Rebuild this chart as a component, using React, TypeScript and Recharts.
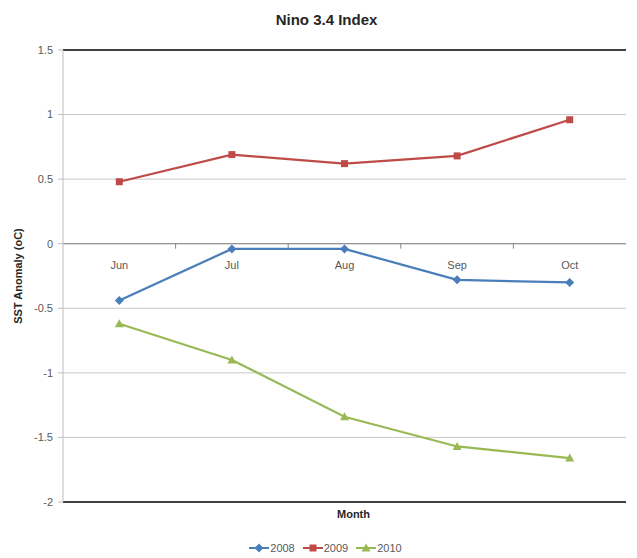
import {
  CartesianGrid,
  Label,
  Legend,
  Line,
  LineChart,
  ReferenceLine,
  XAxis,
  YAxis,
} from "recharts";

const months = ["Jun", "Jul", "Aug", "Sep", "Oct"];
const anomaly2008 = [-0.44, -0.04, -0.04, -0.28, -0.3];
const anomaly2009 = [0.48, 0.69, 0.62, 0.68, 0.96];
const anomaly2010 = [-0.62, -0.9, -1.34, -1.57, -1.66];
const yTicks = [-2, -1.5, -1, -0.5, 0, 0.5, 1, 1.5];

const data = months.map((month, i) => ({
  month,
  y2008: anomaly2008[i],
  y2009: anomaly2009[i],
  y2010: anomaly2010[i],
}));

type Shape = "diamond" | "square" | "triangle";

const series: { key: string; name: string; color: string; shape: Shape }[] = [
  { key: "y2008", name: "2008", color: "#4A7EBB", shape: "diamond" },
  { key: "y2009", name: "2009", color: "#BE4B48", shape: "square" },
  { key: "y2010", name: "2010", color: "#98B954", shape: "triangle" },
];

const FONT = "'Liberation Sans Narrow', 'Liberation Sans', Arial, sans-serif";
const W = 637;
const H = 558;
const MARGIN = { top: 50, right: 11, bottom: 26, left: 0 };
const Y_AXIS_W = 63;
const X_AXIS_H = 30;
const Y_MIN = -2;
const Y_MAX = 1.5;
const PLOT_H = H - MARGIN.top - MARGIN.bottom - X_AXIS_H;
const PLOT_W = W - MARGIN.left - MARGIN.right - Y_AXIS_W;
// the category axis crosses at 0, not at the bottom of the plot
const ZERO_Y = MARGIN.top + (PLOT_H * Y_MAX) / (Y_MAX - Y_MIN);
const BAND = PLOT_W / months.length;

function Marker({ shape, cx, cy, color }: { shape: Shape; cx: number; cy: number; color: string }) {
  if (shape === "diamond") {
    const r = 4.5;
    return (
      <polygon
        points={`${cx},${cy - r} ${cx + r},${cy} ${cx},${cy + r} ${cx - r},${cy}`}
        fill={color}
      />
    );
  }
  if (shape === "square") {
    return <rect x={cx - 3.5} y={cy - 3.5} width={7} height={7} fill={color} />;
  }
  return (
    <polygon
      points={`${cx},${cy - 4.5} ${cx + 4.5},${cy + 3.5} ${cx - 4.5},${cy + 3.5}`}
      fill={color}
    />
  );
}

function MonthTick(props: any) {
  const { x, payload, index } = props;
  return (
    <g>
      <text
        x={x}
        y={ZERO_Y + 25}
        textAnchor="middle"
        fill="#595959"
        fontSize={11}
        fontFamily={FONT}
      >
        {payload.value}
      </text>
      {index < months.length - 1 && (
        <line
          x1={x + BAND / 2}
          x2={x + BAND / 2}
          y1={ZERO_Y}
          y2={ZERO_Y + 5}
          stroke="#868686"
        />
      )}
    </g>
  );
}

function LegendContent() {
  return (
    <div
      style={{
        display: "flex",
        justifyContent: "center",
        gap: 8,
        paddingLeft: 14,
        fontFamily: FONT,
        fontSize: 11,
        color: "#595959",
      }}
    >
      {series.map((s) => (
        <div key={s.key} style={{ display: "flex", alignItems: "center", gap: 1 }}>
          <svg width={20} height={10}>
            <line x1={0} x2={20} y1={5} y2={5} stroke={s.color} strokeWidth={2} />
            <Marker shape={s.shape} cx={10} cy={5} color={s.color} />
          </svg>
          <span>{s.name}</span>
        </div>
      ))}
    </div>
  );
}

export default function App() {
  return (
    <div style={{ position: "absolute", left: 0, top: 0, width: W, height: H, background: "#fff" }}>
      <div
        style={{
          position: "absolute",
          top: 11,
          left: 0,
          width: W,
          paddingLeft: 16,
          boxSizing: "border-box",
          textAlign: "center",
          fontFamily: FONT,
          fontWeight: "bold",
          fontSize: 15,
          color: "#262626",
        }}
      >
        Nino 3.4 Index
      </div>
      <LineChart width={W} height={H} data={data} margin={MARGIN}>
        <CartesianGrid vertical={false} stroke="#C8C8C8" />
        <YAxis
          width={Y_AXIS_W}
          domain={[Y_MIN, Y_MAX]}
          ticks={yTicks}
          interval={0}
          tickSize={5}
          tickMargin={5}
          axisLine={{ stroke: "#BEBEBE" }}
          tickLine={{ stroke: "#BEBEBE" }}
          tick={{ fill: "#595959", fontSize: 11, fontFamily: FONT }}
        >
          <Label
            content={({ viewBox }: any) => (
              <text
                x={viewBox.x + 22}
                y={viewBox.y + viewBox.height / 2}
                transform={`rotate(-90 ${viewBox.x + 22} ${viewBox.y + viewBox.height / 2})`}
                textAnchor="middle"
                fontFamily={FONT}
                fontWeight="bold"
                fontSize={11}
                fill="#262626"
              >
                SST Anomaly (oC)
              </text>
            )}
          />
        </YAxis>
        <XAxis
          dataKey="month"
          height={X_AXIS_H}
          padding={{ left: BAND / 2, right: BAND / 2 }}
          axisLine={false}
          tickLine={false}
          interval={0}
          tick={<MonthTick />}
        >
          <Label
            value="Month"
            position="insideTop"
            offset={8}
            dx={9}
            style={{ fontFamily: FONT, fontWeight: "bold", fontSize: 11, fill: "#262626" }}
          />
        </XAxis>
        <ReferenceLine y={0} stroke="#868686" />
        <ReferenceLine y={Y_MAX} stroke="#404040" strokeWidth={2} />
        <ReferenceLine y={Y_MIN} stroke="#404040" strokeWidth={2} />
        {series.map((s) => (
          <Line
            key={s.key}
            dataKey={s.key}
            name={s.name}
            stroke={s.color}
            strokeWidth={2.25}
            isAnimationActive={false}
            dot={(p: any) => (
              <Marker key={`${s.key}-${p.index}`} shape={s.shape} cx={p.cx} cy={p.cy} color={s.color} />
            )}
            activeDot={false}
          />
        ))}
        <Legend
          layout="horizontal"
          verticalAlign="middle"
          align="center"
          wrapperStyle={{ top: 542, left: 0, width: W }}
          content={<LegendContent />}
        />
      </LineChart>
    </div>
  );
}
